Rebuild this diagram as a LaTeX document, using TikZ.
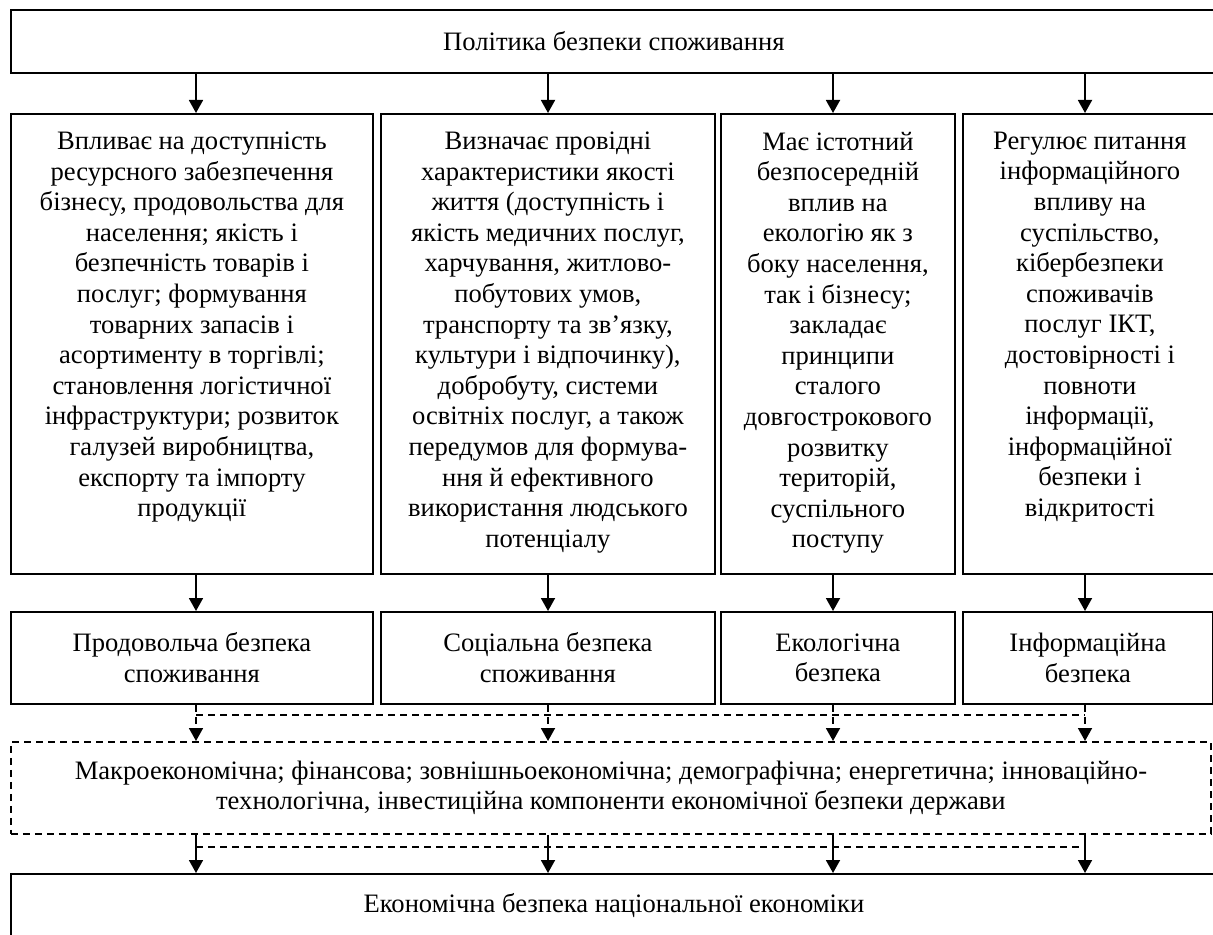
\documentclass[tikz,border=0pt]{standalone}
\usepackage{fontspec}
\setmainfont{Liberation Serif}
\usetikzlibrary{arrows.meta}
\tikzset{
  box/.style={draw, line width=0.9pt, inner sep=0pt, anchor=north west, align=center,
    font=\fontsize{13.3}{15.3}\selectfont},
  dbox/.style={box, dash pattern=on 3.5pt off 2.5pt},
  arr/.style={line width=0.9pt, -{Triangle[length=6.5pt,width=7pt]}},
  darr/.style={arr, dash pattern=on 3.5pt off 2.5pt},
  dline/.style={line width=0.9pt, dash pattern=on 3.5pt off 2.5pt}
}
\newcommand{\tallbox}[2]{\parbox[c][230pt][t]{#1}{\centering\fontsize{13.3}{15.3}\selectfont\vspace*{9pt}#2\par}}
\begin{document}
\begin{tikzpicture}[x=0.5pt,y=-0.5pt]
\useasboundingbox (0,0) rectangle (1213,935);
% top
\node[box, minimum width=603pt, minimum height=31.5pt] (top) at (10,9) {Політика безпеки споживання};
% row 2
\node[box] (r2a) at (10,113) {\tallbox{181pt}{Впливає на доступність\\ресурсного забезпечення\\бізнесу, продовольства для\\населення; якість і\\безпечність товарів і\\послуг; формування\\товарних запасів і\\асортименту в торгівлі;\\становлення логістичної\\інфраструктури; розвиток\\галузей виробництва,\\експорту та імпорту\\продукції}};
\node[box] (r2b) at (380,113) {\tallbox{167pt}{Визначає провідні\\характеристики якості\\життя (доступність і\\якість медичних послуг,\\харчування, житлово-\\побутових умов,\\транспорту та зв’язку,\\культури і відпочинку),\\добробуту, системи\\освітніх послуг, а також\\передумов для формува-\\ння й ефективного\\використання людського\\потенціалу}};
\node[box] (r2c) at (720,113) {\tallbox{117pt}{Має істотний\\безпосередній\\вплив на\\екологію як з\\боку населення,\\так і бізнесу;\\закладає\\принципи\\сталого\\довгострокового\\розвитку\\територій,\\суспільного\\поступу}};
\node[box] (r2d) at (962,113) {\tallbox{127pt}{Регулює питання\\інформаційного\\впливу на\\суспільство,\\кібербезпеки\\споживачів\\послуг ІКТ,\\достовірності і\\повноти\\інформації,\\інформаційної\\безпеки і\\відкритості}};
% row 3
\node[box, minimum width=181pt, minimum height=46pt] (r3a) at (10,611) {Продовольча безпека\\споживання};
\node[box, minimum width=167pt, minimum height=46pt] (r3b) at (380,611) {Соціальна безпека\\споживання};
\node[box, minimum width=117pt, minimum height=46pt] (r3c) at (720,611) {Екологічна\\безпека};
\node[box, minimum width=125pt, minimum height=46pt] (r3d) at (962,611) {Інформаційна\\безпека};
% dashed box
\node[dbox, minimum width=600pt, minimum height=46pt] (mid) at (10,741) {Макроекономічна; фінансова; зовнішньоекономічна; демографічна; енергетична; інноваційно-\\технологічна, інвестиційна компоненти економічної безпеки держави};
% bottom
\node[box, minimum width=603pt, minimum height=32pt] (bot) at (10,873) {Економічна безпека національної економіки};
% arrow columns
\coordinate (x1) at (196,0);
\coordinate (x2) at (548,0);
\coordinate (x3) at (833,0);
\coordinate (x4) at (1085,0);
\draw[arr] (top.south -| x1) -- (r2a.north -| x1);
\draw[arr] (top.south -| x2) -- (r2b.north -| x2);
\draw[arr] (top.south -| x3) -- (r2c.north -| x3);
\draw[arr] (top.south -| x4) -- (r2d.north -| x4);
\draw[arr] (r2a.south -| x1) -- (r3a.north -| x1);
\draw[arr] (r2b.south -| x2) -- (r3b.north -| x2);
\draw[arr] (r2c.south -| x3) -- (r3c.north -| x3);
\draw[arr] (r2d.south -| x4) -- (r3d.north -| x4);
% dashed links to middle box
\coordinate (d1) at (196,715);
\coordinate (d4) at (1085,715);
\draw[dline] (d1) -- (d4);
\draw[darr] (r3a.south -| x1) -- (mid.north -| x1);
\draw[darr] (r3b.south -| x2) -- (mid.north -| x2);
\draw[darr] (r3c.south -| x3) -- (mid.north -| x3);
\draw[darr] (r3d.south -| x4) -- (mid.north -| x4);
% links to bottom
\coordinate (e1) at (196,847);
\coordinate (e4) at (1085,847);
\draw[dline] (e1) -- (e4);
\draw[arr] (mid.south -| x1) -- (bot.north -| x1);
\draw[arr] (mid.south -| x2) -- (bot.north -| x2);
\draw[arr] (mid.south -| x3) -- (bot.north -| x3);
\draw[arr] (mid.south -| x4) -- (bot.north -| x4);
\end{tikzpicture}
\end{document}
